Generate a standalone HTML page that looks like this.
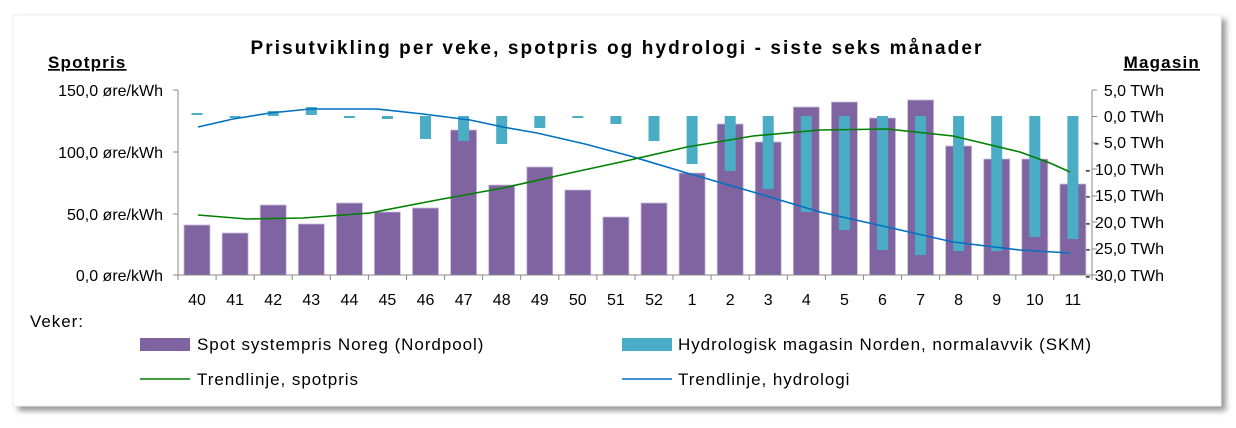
<!DOCTYPE html>
<html><head><meta charset="utf-8"><style>
html,body{margin:0;padding:0;background:#fff;}
svg{display:block;font-family:"Liberation Sans",sans-serif;}
.lg{font-size:17px;letter-spacing:0.95px;}
</style></head><body>
<svg width="1236" height="428" viewBox="0 0 1236 428">
<defs><filter id="sh" x="-5%" y="-5%" width="110%" height="115%"><feGaussianBlur stdDeviation="3"/></filter></defs>
<rect x="18" y="19" width="1208" height="392" fill="#999" filter="url(#sh)"/>
<rect x="13" y="15" width="1208" height="391" fill="#fff" stroke="#eee"/>
<text x="617" y="54" font-size="19" font-weight="bold" text-anchor="middle" letter-spacing="2.1">Prisutvikling per veke, spotpris og hydrologi - siste seks månader</text>
<text x="48" y="68" font-size="17" font-weight="bold" letter-spacing="1.2" text-decoration="underline">Spotpris</text>
<text x="1200" y="68" font-size="17" font-weight="bold" letter-spacing="1.2" text-anchor="end" text-decoration="underline">Magasin</text>
<g font-size="16" text-anchor="end">
<text x="163" y="96">150,0 øre/kWh</text>
<text x="163" y="158">100,0 øre/kWh</text>
<text x="163" y="220">50,0 øre/kWh</text>
<text x="163" y="281">0,0 øre/kWh</text>
</g>
<g font-size="16" text-anchor="end">
<text x="1164" y="96">5,0 TWh</text>
<text x="1164" y="122">0,0 TWh</text>
<text x="1164" y="148">- 5,0 TWh</text>
<text x="1164" y="175">- 10,0 TWh</text>
<text x="1164" y="201">- 15,0 TWh</text>
<text x="1164" y="228">- 20,0 TWh</text>
<text x="1164" y="254">- 25,0 TWh</text>
<text x="1164" y="281">- 30,0 TWh</text>
</g>
<g fill="#8064a2" stroke="#c9bcdb" stroke-width="0.8">
<rect x="184" y="225" width="26" height="50"/>
<rect x="222.1" y="233" width="26" height="42"/>
<rect x="260.2" y="205" width="26" height="70"/>
<rect x="298.3" y="224" width="26" height="51"/>
<rect x="336.4" y="203" width="26" height="72"/>
<rect x="374.4" y="212" width="26" height="63"/>
<rect x="412.5" y="208" width="26" height="67"/>
<rect x="450.6" y="130" width="26" height="145"/>
<rect x="488.7" y="185" width="26" height="90"/>
<rect x="526.8" y="167" width="26" height="108"/>
<rect x="564.8" y="190" width="26" height="85"/>
<rect x="602.9" y="217" width="26" height="58"/>
<rect x="641" y="203" width="26" height="72"/>
<rect x="679.1" y="173" width="26" height="102"/>
<rect x="717.2" y="124" width="26" height="151"/>
<rect x="755.2" y="142" width="26" height="133"/>
<rect x="793.3" y="107" width="26" height="168"/>
<rect x="831.4" y="102" width="26" height="173"/>
<rect x="869.5" y="118" width="26" height="157"/>
<rect x="907.6" y="100" width="26" height="175"/>
<rect x="945.6" y="146" width="26" height="129"/>
<rect x="983.7" y="159" width="26" height="116"/>
<rect x="1021.8" y="159" width="26" height="116"/>
<rect x="1059.9" y="184" width="26" height="91"/>
</g>
<g fill="#4bacc6">
<rect x="191.5" y="113" width="11" height="2"/>
<rect x="229.6" y="116" width="11" height="2"/>
<rect x="267.7" y="111" width="11" height="5"/>
<rect x="305.8" y="107" width="11" height="8"/>
<rect x="343.9" y="116" width="11" height="2"/>
<rect x="381.9" y="116" width="11" height="3"/>
<rect x="420" y="116" width="11" height="23"/>
<rect x="458.1" y="116" width="11" height="25"/>
<rect x="496.2" y="116" width="11" height="28"/>
<rect x="534.3" y="116" width="11" height="12"/>
<rect x="572.3" y="116" width="11" height="2"/>
<rect x="610.4" y="116" width="11" height="8"/>
<rect x="648.5" y="116" width="11" height="25"/>
<rect x="686.6" y="116" width="11" height="48"/>
<rect x="724.7" y="116" width="11" height="55"/>
<rect x="762.7" y="116" width="11" height="73"/>
<rect x="800.8" y="116" width="11" height="96"/>
<rect x="838.9" y="116" width="11" height="114"/>
<rect x="877" y="116" width="11" height="134"/>
<rect x="915.1" y="116" width="11" height="139"/>
<rect x="953.1" y="116" width="11" height="135"/>
<rect x="991.2" y="116" width="11" height="135"/>
<rect x="1029.3" y="116" width="11" height="121"/>
<rect x="1067.4" y="116" width="11" height="123"/>
</g>
<polyline fill="none" stroke="#0070c0" stroke-width="1.6" points="198,127 233,119 270,113 310,109 377,109 423,114 470,120 503,127 537,133 585,144 630,156 687,173 753,192 820,212 887,227 953,242 1020,250 1070,253"/>
<polyline fill="none" stroke="#008000" stroke-width="1.6" points="198,215 247,219 303,218 370,213 437,200 503,188 570,173 630,160 687,147 753,136 820,130 887,129 953,136 1020,152 1050,163 1070,172"/>
<g stroke="#888" stroke-width="1" fill="none">
<path d="M178,90 V275 M173,90 H178 M173,152 H178 M173,214 H178 M173,275 H178"/>
<path d="M1092,90 V275 M1092,90 H1097 M1092,116.5 H1097 M1092,143 H1097 M1092,169 H1097 M1092,196 H1097 M1092,222 H1097 M1092,249 H1097 M1092,275 H1097"/>
<path d="M178,275 H1092"/>
<path d="M178,275v5M216.1,275v5M254.2,275v5M292.2,275v5M330.3,275v5M368.4,275v5M406.5,275v5M444.6,275v5M482.6,275v5M520.7,275v5M558.8,275v5M596.9,275v5M635,275v5M673,275v5M711.1,275v5M749.2,275v5M787.3,275v5M825.4,275v5M863.4,275v5M901.5,275v5M939.6,275v5M977.7,275v5M1015.8,275v5M1053.8,275v5M1092,275v5"/>
</g>
<g font-size="16" text-anchor="middle">
<text x="197" y="305">40</text><text x="235.1" y="305">41</text><text x="273.2" y="305">42</text><text x="311.3" y="305">43</text><text x="349.4" y="305">44</text><text x="387.4" y="305">45</text><text x="425.5" y="305">46</text><text x="463.6" y="305">47</text><text x="501.7" y="305">48</text><text x="539.8" y="305">49</text><text x="577.8" y="305">50</text><text x="615.9" y="305">51</text><text x="654" y="305">52</text><text x="692.1" y="305">1</text><text x="730.2" y="305">2</text><text x="768.2" y="305">3</text><text x="806.3" y="305">4</text><text x="844.4" y="305">5</text><text x="882.5" y="305">6</text><text x="920.6" y="305">7</text><text x="958.6" y="305">8</text><text x="996.7" y="305">9</text><text x="1034.8" y="305">10</text><text x="1072.9" y="305">11</text>
</g>
<text x="30" y="327" class="lg">Veker:</text>
<rect x="140" y="338" width="50" height="13" fill="#8064a2"/>
<text x="197" y="350" class="lg">Spot systempris Noreg (Nordpool)</text>
<rect x="622" y="338" width="50" height="13" fill="#4bacc6"/>
<text x="678" y="350" class="lg">Hydrologisk magasin Norden, normalavvik (SKM)</text>
<line x1="140" y1="379" x2="190" y2="379" stroke="#008000" stroke-width="1.6"/>
<text x="197" y="385" class="lg">Trendlinje, spotpris</text>
<line x1="622" y1="379" x2="672" y2="379" stroke="#0070c0" stroke-width="1.6"/>
<text x="678" y="385" class="lg">Trendlinje, hydrologi</text>
</svg>
</body></html>
